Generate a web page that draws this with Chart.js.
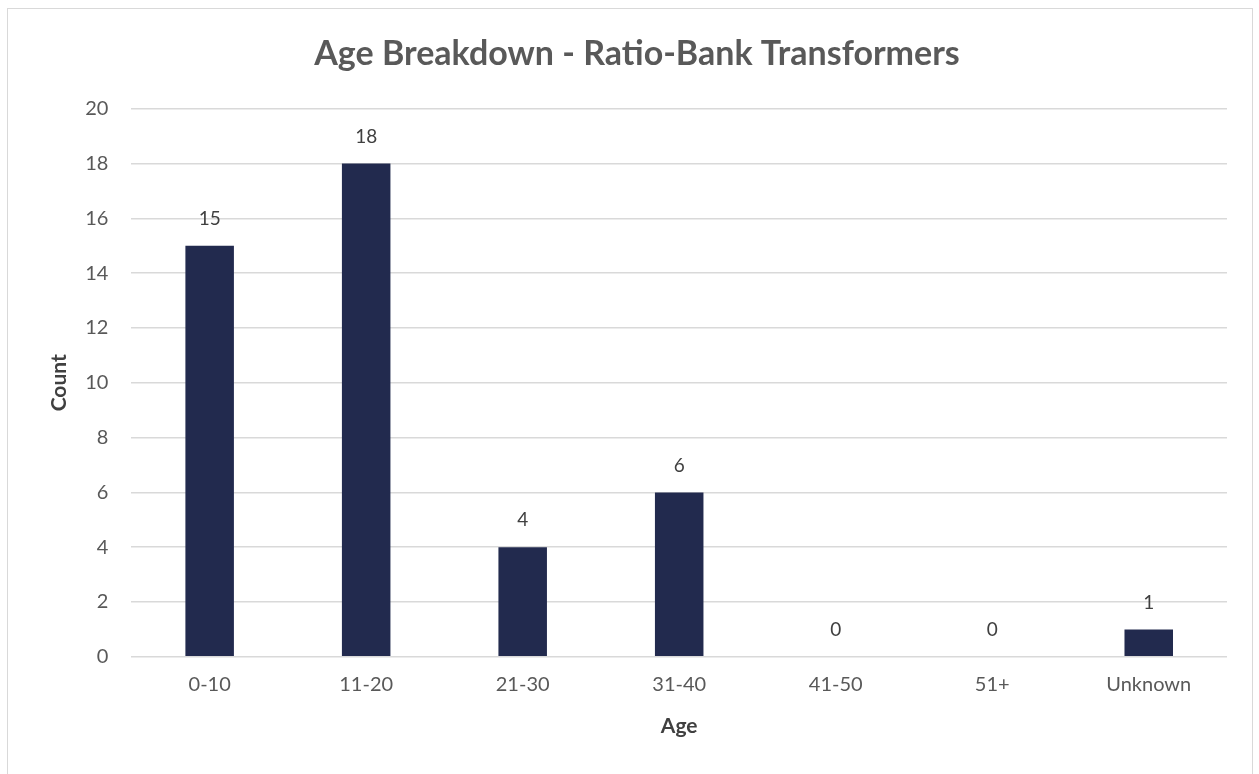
<!DOCTYPE html>
<html>
<head>
<meta charset="utf-8">
<script src="https://cdn.jsdelivr.net/npm/chart.js@4"></script>
<style>
    body { margin: 0; background: #ffffff; }
    #frame {
        position: absolute;
        left: 7px; top: 8px;
        width: 1244px; height: 770px;
        border: 1px solid #d9d9d9;
        border-bottom: none;
    }
    #wrap { position: absolute; left: 0; top: 0; width: 1259px; height: 774px; }
</style>
</head>
<body>
<div id="frame"></div>
<div id="wrap"><canvas id="age-chart"></canvas></div>
<script>
const ageGroups = ["0-10", "11-20", "21-30", "31-40", "41-50", "51+", "Unknown"];
const ageCounts = [15, 18, 4, 6, 0, 0, 1];

const textGrey = "#595959";
const fontName = "Lato, 'Open Sans', sans-serif";

// draws the value above each bar
const barValues = {
    id: "barValues",
    afterDatasetsDraw(chart) {
        const ctx = chart.ctx;
        const meta = chart.getDatasetMeta(0);
        ctx.save();
        ctx.font = "19px " + fontName;
        ctx.fillStyle = "#404040";
        ctx.textAlign = "center";
        ctx.textBaseline = "middle";
        meta.data.forEach((bar, i) => {
            ctx.fillText(ageCounts[i], bar.x, bar.y - 27);
        });
        ctx.restore();
    }
};

let ageChart;

function createAgeChart() {
    const ageCanvas = document.getElementById("age-chart");
    ageChart = new Chart(ageCanvas.getContext("2d"), {
        type: "bar",
        data: {
            labels: ageGroups,
            datasets: [
                {
                    backgroundColor: "#222a4e",
                    borderWidth: 0,
                    barPercentage: 0.5,
                    categoryPercentage: 0.62,
                    data: ageCounts
                }
            ]
        },
        options: {
            responsive: true,
            maintainAspectRatio: false,
            animation: false,
            layout: {
                padding: { left: 47, right: 32, top: 34, bottom: 35 }
            },
            plugins: {
                legend: { display: false },
                tooltip: { enabled: false },
                title: {
                    display: true,
                    text: "Age Breakdown - Ratio-Bank Transformers",
                    color: textGrey,
                    font: { family: fontName, size: 34, weight: "bold" },
                    padding: { top: 0, bottom: 34 }
                }
            },
            scales: {
                x: {
                    grid: { display: false, drawTicks: false },
                    border: { display: false },
                    ticks: {
                        color: textGrey,
                        font: { family: fontName, size: 20 },
                        padding: 16
                    },
                    title: {
                        display: true,
                        text: "Age",
                        color: "#404040",
                        font: { family: fontName, size: 21, weight: "bold" },
                        padding: { top: 1, bottom: 0 }
                    }
                },
                y: {
                    min: 0,
                    max: 20,
                    grid: { color: "#d9d9d9", lineWidth: 1.5, drawTicks: false },
                    border: { display: false },
                    ticks: {
                        stepSize: 2,
                        color: textGrey,
                        font: { family: fontName, size: 20 },
                        padding: 23
                    },
                    title: {
                        display: true,
                        text: "Count",
                        color: "#404040",
                        font: { family: fontName, size: 21, weight: "bold" },
                        padding: { top: 0, bottom: -10 }
                    }
                }
            }
        },
        plugins: [barValues]
    });
}

createAgeChart();
</script>
</body>
</html>
